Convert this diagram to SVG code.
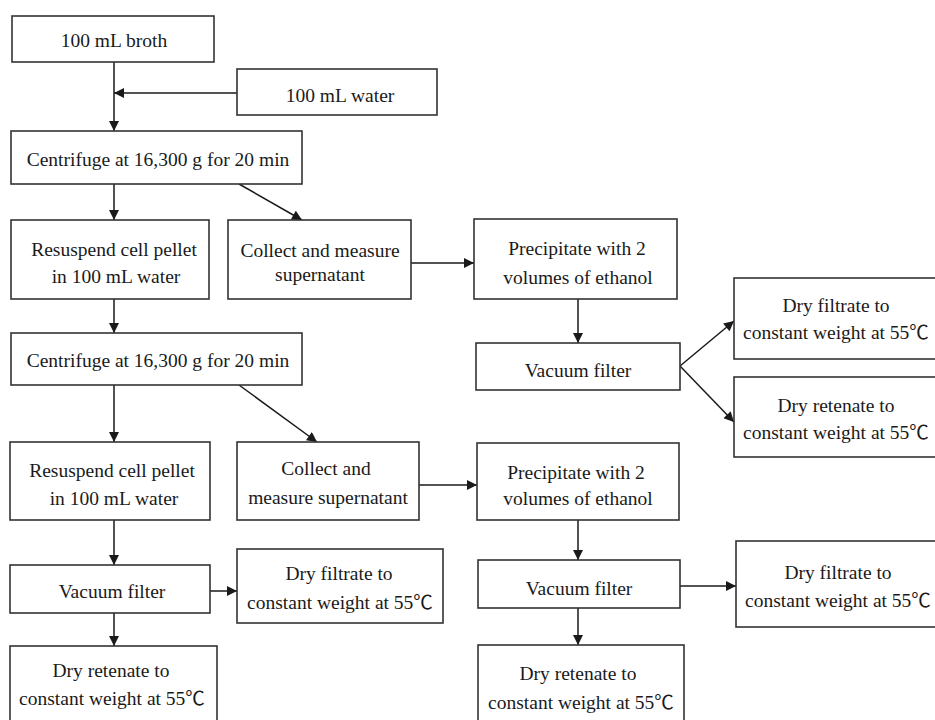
<svg xmlns="http://www.w3.org/2000/svg" width="935" height="720" viewBox="0 0 935 720">
<defs>
<style>
.b{fill:#fff;stroke:#333;stroke-width:1.6}
.t{font-family:"Liberation Serif","Noto Sans CJK SC",serif;font-size:19.5px;fill:#1a1a1a;text-anchor:middle}
.c{stroke:#1a1a1a;stroke-width:1.5;fill:none}
</style>
<marker id="ah" viewBox="0 0 10 10" refX="10" refY="5" markerWidth="12" markerHeight="10" markerUnits="userSpaceOnUse" orient="auto">
<path d="M0,0 L10,5 L0,10 z" fill="#1a1a1a"/>
</marker>
</defs>
<rect width="935" height="720" fill="#fff"/>
<g id="connectors">
<line class="c" x1="114" y1="62" x2="114" y2="131" marker-end="url(#ah)"/>
<line class="c" x1="237" y1="93" x2="114" y2="93" marker-end="url(#ah)"/>
<line class="c" x1="114" y1="184" x2="114" y2="220" marker-end="url(#ah)"/>
<line class="c" x1="239" y1="184" x2="302" y2="220" marker-end="url(#ah)"/>
<line class="c" x1="411" y1="263" x2="474" y2="263" marker-end="url(#ah)"/>
<line class="c" x1="114" y1="299" x2="114" y2="333" marker-end="url(#ah)"/>
<line class="c" x1="578" y1="299" x2="578" y2="343" marker-end="url(#ah)"/>
<line class="c" x1="680" y1="366" x2="734" y2="321" marker-end="url(#ah)"/>
<line class="c" x1="680" y1="366" x2="734" y2="422" marker-end="url(#ah)"/>
<line class="c" x1="114" y1="385" x2="114" y2="442" marker-end="url(#ah)"/>
<line class="c" x1="239" y1="385" x2="317" y2="442" marker-end="url(#ah)"/>
<line class="c" x1="419" y1="485" x2="477" y2="485" marker-end="url(#ah)"/>
<line class="c" x1="114" y1="520" x2="114" y2="565" marker-end="url(#ah)"/>
<line class="c" x1="210" y1="591" x2="237" y2="591" marker-end="url(#ah)"/>
<line class="c" x1="114" y1="613" x2="114" y2="646" marker-end="url(#ah)"/>
<line class="c" x1="578" y1="520" x2="578" y2="560" marker-end="url(#ah)"/>
<line class="c" x1="680" y1="586" x2="736" y2="586" marker-end="url(#ah)"/>
<line class="c" x1="578" y1="608" x2="578" y2="645" marker-end="url(#ah)"/>
</g>
<g id="broth"><rect class="b" x="12" y="16" width="202" height="46"/><text class="t" x="114" y="47">100 mL broth</text></g>
<g id="water"><rect class="b" x="237" y="69" width="200" height="46"/><text class="t" x="340" y="102">100 mL water</text></g>
<g id="centrifuge1"><rect class="b" x="11" y="131" width="291" height="53"/><text class="t" x="158" y="166">Centrifuge at 16,300 g for 20 min</text></g>
<g id="resuspend1"><rect class="b" x="11" y="220" width="198" height="79"/><text class="t" x="114" y="256">Resuspend cell pellet</text><text class="t" x="116" y="283">in 100 mL water</text></g>
<g id="collect1"><rect class="b" x="228" y="220" width="183" height="79"/><text class="t" x="320" y="257">Collect and measure</text><text class="t" x="320" y="281">supernatant</text></g>
<g id="precip1"><rect class="b" x="474" y="219" width="203" height="80"/><text class="t" x="577" y="255">Precipitate with 2</text><text class="t" x="578" y="284">volumes of ethanol</text></g>
<g id="centrifuge2"><rect class="b" x="11" y="333" width="291" height="52"/><text class="t" x="158" y="367">Centrifuge at 16,300 g for 20 min</text></g>
<g id="vacuum1"><rect class="b" x="476" y="343" width="204" height="47"/><text class="t" x="578" y="377">Vacuum filter</text></g>
<g id="dryfil1"><rect class="b" x="734" y="278" width="220" height="81"/><text class="t" x="836" y="312">Dry filtrate to</text><text class="t" x="836" y="339">constant weight at 55℃</text></g>
<g id="dryret1"><rect class="b" x="734" y="377" width="220" height="80"/><text class="t" x="836" y="412">Dry retenate to</text><text class="t" x="836" y="439">constant weight at 55℃</text></g>
<g id="resuspend2"><rect class="b" x="10" y="442" width="200" height="78"/><text class="t" x="112" y="477">Resuspend cell pellet</text><text class="t" x="114" y="505">in 100 mL water</text></g>
<g id="collect2"><rect class="b" x="237" y="442" width="182" height="78"/><text class="t" x="326" y="475">Collect and</text><text class="t" x="328" y="504">measure supernatant</text></g>
<g id="precip2"><rect class="b" x="477" y="443" width="202" height="77"/><text class="t" x="576" y="479">Precipitate with 2</text><text class="t" x="578" y="505">volumes of ethanol</text></g>
<g id="vacuum2"><rect class="b" x="10" y="565" width="200" height="48"/><text class="t" x="112" y="598">Vacuum filter</text></g>
<g id="dryfil2"><rect class="b" x="237" y="549" width="206" height="74"/><text class="t" x="339" y="580">Dry filtrate to</text><text class="t" x="340" y="609">constant weight at 55℃</text></g>
<g id="dryret2"><rect class="b" x="10" y="646" width="207" height="90"/><text class="t" x="111" y="677">Dry retenate to</text><text class="t" x="112" y="705">constant weight at 55℃</text></g>
<g id="vacuum3"><rect class="b" x="478" y="560" width="202" height="48"/><text class="t" x="579" y="595">Vacuum filter</text></g>
<g id="dryfil3"><rect class="b" x="736" y="541" width="220" height="86"/><text class="t" x="838" y="579">Dry filtrate to</text><text class="t" x="838" y="607">constant weight at 55℃</text></g>
<g id="dryret3"><rect class="b" x="478" y="645" width="206" height="90"/><text class="t" x="578" y="680">Dry retenate to</text><text class="t" x="581" y="709">constant weight at 55℃</text></g>
</svg>
